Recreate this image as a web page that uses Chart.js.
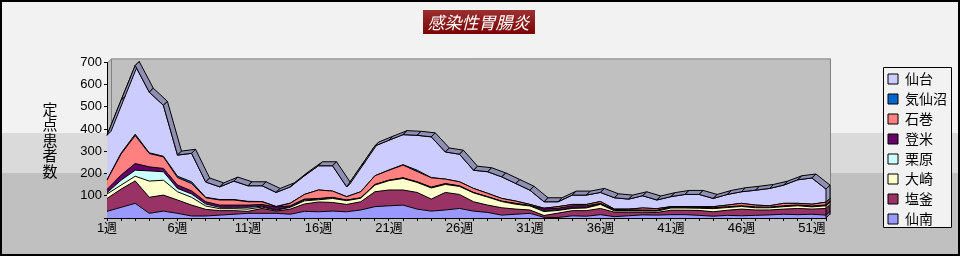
<!DOCTYPE html>
<html>
<head>
<meta charset="utf-8">
<script src="https://cdn.jsdelivr.net/npm/chart.js@4.4.1/dist/chart.umd.min.js"></script>
<style>
  html, body { margin: 0; padding: 0; background: #f2f2f2; }
  #wrap { width: 960px; height: 256px; }
</style>
</head>
<body>
<div id="wrap"><canvas id="chart" width="960" height="256"></canvas></div>
<script>
const weekLabels = [
  '1週','2週','3週','4週','5週','6週','7週','8週','9週','10週',
  '11週','12週','13週','14週','15週','16週','17週','18週','19週','20週',
  '21週','22週','23週','24週','25週','26週','27週','28週','29週','30週',
  '31週','32週','33週','34週','35週','36週','37週','38週','39週','40週',
  '41週','42週','43週','44週','45週','46週','47週','48週','49週','50週',
  '51週','52週'
];

// stacked from the bottom up
const sennan = [30,48,66,21,31,21,9,9,13,17, 21,21,21,17,30,28,31,28,36,51, 55,58,40,31,36,43,31,25,13,17, 21,3,2,10,8,15,6,10,14,13, 15,15,12,8,12,10,12,14,17,15, 17,13];
const shiogama = [58,82,101,72,72,60,49,30,20,16, 9,22,10,23,33,44,39,33,37,67, 71,68,75,54,79,63,42,33,33,23, 15,8,20,23,25,28,20,16,12,12, 20,20,22,20,23,30,24,22,23,28, 23,30];
const osaki = [20,18,21,73,67,37,35,15,9,9, 10,6,4,8,14,10,18,17,16,30, 42,52,45,50,36,36,40,36,28,22, 18,18,12,10,12,18,6,6,6,6, 10,10,10,14,12,12,10,10,11,12, 10,12];
const kurihara = [6,22,27,46,38,15,15,9,6,6, 8,4,2,2,4,3,3,2,1,2, 2,2,2,2,2,2,1,1,1,2, 1,2,2,2,2,2,2,1,1,1, 1,1,1,1,1,1,1,1,1,1, 1,1];
const tome = [14,23,30,18,15,15,14,10,10,10, 10,8,12,5,4,3,2,1,1,1, 0,1,1,2,2,1,1,1,1,2, 1,10,8,10,8,3,4,4,3,3, 4,4,4,3,3,2,3,2,3,3, 3,3];
const ishinomaki = [42,95,126,60,52,34,33,18,23,23, 15,12,2,11,21,38,28,15,27,39, 45,57,46,42,20,18,18,15,12,10, 5,3,7,6,6,8,2,3,9,7, 1,1,2,5,7,11,8,6,11,7, 8,12];
const kesennuma = [2,4,6,3,3,6,8,2,2,2, 2,1,1,1,0,0,0,0,0,0, 1,2,6,1,0,0,0,0,0,0, 0,0,0,0,0,0,0,0,0,0, 0,0,0,0,0,0,0,0,0,0, 0,0];
const sendai = [200,238,309,273,229,95,128,69,57,83, 70,71,63,73,84,109,114,44,114,134, 134,135,157,183,122,124,82,97,97,79, 64,29,22,42,42,41,51,45,55,39, 45,55,55,37,48,52,67,78,82,106, 118,59];

const yTicks = [0, 100, 200, 300, 400, 500, 600, 700];

const FONT = "'Liberation Sans', 'Noto Sans CJK JP', sans-serif";
const JP = "'Noto Sans CJK JP', sans-serif";
Chart.defaults.font.family = FONT;
Chart.defaults.color = '#000';

const depth = 4;

function shade(hex, k) {
  const n = parseInt(hex.slice(1), 16);
  const r = Math.round(((n >> 16) & 255) * k);
  const g = Math.round(((n >> 8) & 255) * k);
  const b = Math.round((n & 255) * k);
  return 'rgb(' + r + ',' + g + ',' + b + ')';
}

const series = [
  { label: '仙南', data: sennan, color: '#9999FF' },
  { label: '塩釜', data: shiogama, color: '#993366' },
  { label: '大崎', data: osaki, color: '#FFFFCC' },
  { label: '栗原', data: kurihara, color: '#CCFFFF' },
  { label: '登米', data: tome, color: '#660066' },
  { label: '石巻', data: ishinomaki, color: '#FF8080' },
  { label: '気仙沼', data: kesennuma, color: '#0066CC' },
  { label: '仙台', data: sendai, color: '#CCCCFF' }
];

// background bands, wall, title box and legend frame
const backdrop = {
  id: 'backdrop',
  beforeDraw(chart) {
    const { ctx, width, height, chartArea: a } = chart;
    ctx.save();
    ctx.fillStyle = '#f2f2f2';
    ctx.fillRect(0, 0, width, height);
    ctx.fillStyle = '#dadada';
    ctx.fillRect(0, 133, width, 40);
    ctx.fillStyle = '#c0c0c0';
    ctx.fillRect(0, 173, width, height - 173);
    ctx.lineWidth = 2;
    ctx.strokeStyle = '#000';
    ctx.strokeRect(1, 1, width - 2, height - 2);

    // 3d wall
    ctx.lineWidth = 1;
    ctx.fillStyle = '#c0c0c0';
    ctx.strokeStyle = '#808080';
    ctx.beginPath();
    ctx.rect(a.left + depth + 0.5, a.top - depth + 0.5, a.right - a.left, a.bottom - a.top);
    ctx.fill();
    ctx.stroke();
    ctx.beginPath();
    ctx.moveTo(a.left + 0.5, a.bottom + 0.5);
    ctx.lineTo(a.left + 0.5, a.top + 0.5);
    ctx.lineTo(a.left + depth + 0.5, a.top - depth + 0.5);
    ctx.lineTo(a.left + depth + 0.5, a.bottom - depth + 0.5);
    ctx.closePath();
    ctx.fill();
    ctx.stroke();

    // title box
    const t = chart.titleBlock;
    const tf = t.options.font;
    ctx.font = 'italic ' + tf.size + 'px ' + JP;
    const tw = ctx.measureText(t.options.text).width + 10;
    const cy = t.top + t.options.padding.top + tf.size * 1.2 / 2;
    const cx = (t.left + t.right) / 2;
    const grad = ctx.createLinearGradient(0, cy - 12, 0, cy + 12);
    grad.addColorStop(0, '#9a3030');
    grad.addColorStop(1, '#7a0404');
    ctx.fillStyle = grad;
    ctx.fillRect(Math.round(cx - tw / 2), Math.round(cy - 12), Math.round(tw), 24);

    // legend frame
    const boxes = chart.legend.legendHitBoxes;
    if (boxes && boxes.length) {
      let l = Infinity, r = -Infinity, tp = Infinity, b = -Infinity;
      boxes.forEach(h => {
        l = Math.min(l, h.left); r = Math.max(r, h.left + h.width);
        tp = Math.min(tp, h.top); b = Math.max(b, h.top + h.height);
      });
      ctx.fillStyle = '#f2f2f2';
      ctx.strokeStyle = '#000';
      ctx.beginPath();
      ctx.rect(Math.round(l - 5) + 0.5, Math.round(tp - 5) + 0.5, Math.round(r - l + 9), Math.round(b - tp + 6));
      ctx.fill();
      ctx.stroke();
    }
    ctx.restore();
  }
};

// ribbon on top of the highest series and the right-hand side face
const depthFaces = {
  id: 'depthFaces',
  afterDatasetsDraw(chart) {
    const { ctx } = chart;
    const n = chart.data.datasets.length;
    const yScale = chart.scales.y;
    ctx.save();
    ctx.lineWidth = 1;
    ctx.strokeStyle = '#000';
    ctx.lineJoin = 'miter';

    const top = chart.getDatasetMeta(n - 1).data;
    ctx.fillStyle = shade(series[n - 1].color, 0.7);
    for (let i = 0; i < top.length - 1; i++) {
      const p = top[i], q = top[i + 1];
      ctx.beginPath();
      ctx.moveTo(p.x, p.y);
      ctx.lineTo(q.x, q.y);
      ctx.lineTo(q.x + depth, q.y - depth);
      ctx.lineTo(p.x + depth, p.y - depth);
      ctx.closePath();
      ctx.fill();
      ctx.stroke();
    }

    const last = top.length - 1;
    for (let k = 0; k < n; k++) {
      const pt = chart.getDatasetMeta(k).data[last];
      const yb = k === 0 ? yScale.getPixelForValue(0) : chart.getDatasetMeta(k - 1).data[last].y;
      ctx.fillStyle = shade(series[k].color, 0.75);
      ctx.beginPath();
      ctx.moveTo(pt.x, yb);
      ctx.lineTo(pt.x, pt.y);
      ctx.lineTo(pt.x + depth, pt.y - depth);
      ctx.lineTo(pt.x + depth, yb - depth);
      ctx.closePath();
      ctx.fill();
      ctx.stroke();
    }
    ctx.restore();
  }
};

// vertical axis title, one character per line
const yTitle = {
  id: 'yTitle',
  afterDraw(chart) {
    const { ctx, chartArea: a } = chart;
    const chars = ['定', '点', '患', '者', '数'];
    const mid = (a.top + a.bottom) / 2;
    ctx.save();
    ctx.font = '15px ' + JP;
    ctx.fillStyle = '#000';
    ctx.textAlign = 'center';
    ctx.textBaseline = 'middle';
    chars.forEach((c, i) => ctx.fillText(c, a.left - 57, mid + (i - 2) * 15.5));
    ctx.restore();
  }
};

const ctx = document.getElementById('chart').getContext('2d');
new Chart(ctx, {
  type: 'line',
  data: {
    labels: weekLabels,
    datasets: series.map((s, i) => ({
      label: s.label,
      data: s.data,
      backgroundColor: s.color,
      borderColor: '#000',
      borderWidth: 1,
      fill: i === 0 ? 'origin' : '-1',
      pointRadius: 0,
      tension: 0
    }))
  },
  options: {
    responsive: false,
    animation: false,
    layout: { padding: { left: 0, right: 3, top: 0, bottom: 0 } },
    plugins: {
      title: {
        display: true,
        text: '感染性胃腸炎',
        color: '#fff',
        font: { size: 17, style: 'italic', weight: 'normal', family: JP },
        padding: { top: 12, bottom: 4 }
      },
      legend: {
        position: 'right',
        reverse: true,
        // empty title only pushes the entries down to where the reference has them
        title: { display: true, text: '', font: { size: 10 }, padding: { top: 30, bottom: 0 } },
        labels: {
          boxWidth: 10,
          boxHeight: 10,
          padding: 6,
          font: { size: 14, family: JP },
          color: '#000'
        }
      },
      tooltip: { enabled: false }
    },
    scales: {
      x: {
        stacked: true,
        offset: false,
        border: { display: true, color: '#000' },
        grid: { display: true, drawOnChartArea: false, drawTicks: true, tickLength: 3, color: '#000' },
        ticks: {
          autoSkip: false,
          maxRotation: 0,
          padding: 0,
          font: { size: 13 },
          callback: (v, i) => (i % 5 === 0 ? weekLabels[i] : '')
        },
        afterFit: s => { s.height = 38; }
      },
      xTop: {
        type: 'linear',
        position: 'top',
        display: true,
        ticks: { display: false },
        grid: { display: false },
        border: { display: false },
        afterFit: s => { s.height = 26; }
      },
      y: {
        stacked: true,
        min: yTicks[0],
        max: yTicks[yTicks.length - 1],
        border: { display: true, color: '#000' },
        grid: { display: true, drawOnChartArea: false, drawTicks: true, tickLength: 3, color: '#000' },
        ticks: {
          stepSize: yTicks[1] - yTicks[0],
          padding: 2,
          font: { size: 13 },
          callback: v => (v === 0 ? '' : v)
        },
        afterFit: s => { s.width = 107; }
      },
      yRight: {
        type: 'linear',
        position: 'right',
        display: true,
        ticks: { display: false },
        grid: { display: false },
        border: { display: false },
        afterFit: s => { s.width = 56; }
      }
    }
  },
  plugins: [backdrop, depthFaces, yTitle]
});
</script>
</body>
</html>
